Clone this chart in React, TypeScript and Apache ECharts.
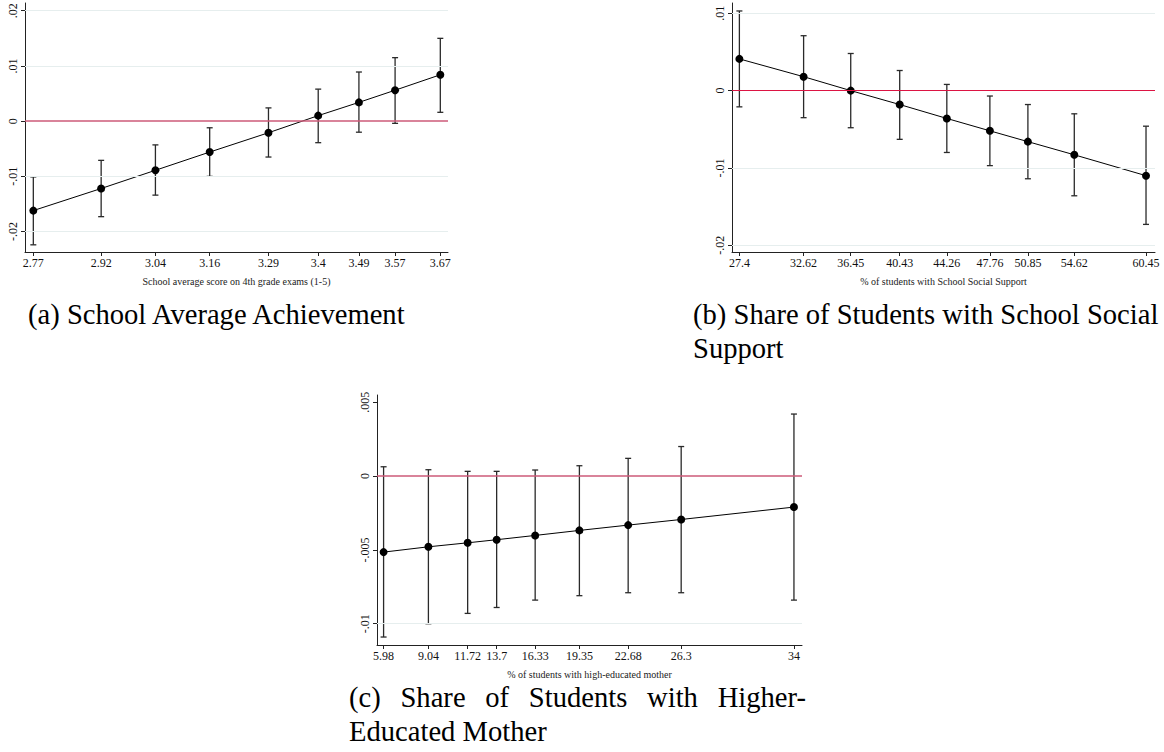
import React, { useEffect, useRef } from "react";
import * as echarts from "echarts";

// ---------- data ----------
const A_X = [2.77, 2.92, 3.04, 3.16, 3.29, 3.4, 3.49, 3.57, 3.67];
const A_EST = [-0.0162, -0.0122, -0.0089, -0.0056, -0.0021, 0.001, 0.0034, 0.0056, 0.0084];
const A_LO = [-0.0224, -0.0173, -0.0134, -0.01, -0.0065, -0.0039, -0.002, -0.0004, 0.0016];
const A_HI = [-0.0101, -0.0071, -0.0043, -0.0012, 0.0024, 0.0058, 0.0089, 0.0115, 0.015];
const A_YTICKS = [-0.02, -0.01, 0, 0.01, 0.02];
const A_YLABELS = ["-.02", "-.01", "0", ".01", ".02"];
const A_XLABELS = ["2.77", "2.92", "3.04", "3.16", "3.29", "3.4", "3.49", "3.57", "3.67"];

const B_X = [27.4, 32.62, 36.45, 40.43, 44.26, 47.76, 50.85, 54.62, 60.45];
const B_EST = [0.0041, 0.0018, 0.0, -0.0018, -0.0036, -0.0052, -0.0066, -0.0083, -0.011];
const B_LO = [-0.0021, -0.0035, -0.0048, -0.0063, -0.008, -0.0097, -0.0114, -0.0136, -0.0173];
const B_HI = [0.0103, 0.0071, 0.0048, 0.0026, 0.0008, -0.0007, -0.0018, -0.003, -0.0046];
const B_YTICKS = [-0.02, -0.01, 0, 0.01];
const B_YLABELS = ["-.02", "-.01", "0", ".01"];
const B_XLABELS = ["27.4", "32.62", "36.45", "40.43", "44.26", "47.76", "50.85", "54.62", "60.45"];

const C_X = [5.98, 9.04, 11.72, 13.7, 16.33, 19.35, 22.68, 26.3, 34];
const C_EST = [-0.00515, -0.00479, -0.00452, -0.00431, -0.00402, -0.00368, -0.00332, -0.00294, -0.0021];
const C_LO = [-0.0109, -0.01, -0.0093, -0.0089, -0.0084, -0.0081, -0.0079, -0.0079, -0.0084];
const C_HI = [0.00063, 0.00043, 0.00032, 0.00032, 0.00041, 0.0007, 0.0012, 0.002, 0.0042];
const C_YTICKS = [-0.01, -0.005, 0, 0.005];
const C_YLABELS = ["-.01", "-.005", "0", ".005"];
const C_XLABELS = ["5.98", "9.04", "11.72", "13.7", "16.33", "19.35", "22.68", "26.3", "34"];

const X_TITLES = [
  "School average score on 4th grade exams (1-5)",
  "% of students with School Social Support",
  "% of students with high-educated mother",
];
const CAPTION_A = "(a) School Average Achievement";
const CAPTION_B = ["(b) Share of Students with School Social", "Support"];
const CAPTION_C = ["(c) Share of Students with Higher-", "Educated Mother"];

// ---------- styling ----------
const SERIF = "'Liberation Serif', 'Times New Roman', serif";
const GRID_COLOR = "#e6eeee";

function measure(text: string, size: number) {
  const c = document.createElement("canvas").getContext("2d");
  if (!c) return text.length * size * 0.45;
  c.font = `${size}px ${SERIF}`;
  return c.measureText(text).width;
}

function justifiedLine(text: string, left: number, right: number, y: number, size: number) {
  const words = text.split(" ");
  const widths = words.map((w) => measure(w, size));
  const total = widths.reduce((a, b) => a + b, 0);
  const gap = (right - left - total) / (words.length - 1);
  let x = left;
  return words.map((w, i) => {
    const el = {
      type: "text",
      left: x,
      top: y,
      style: { text: w, fontSize: size, fontFamily: SERIF, fill: "#000" },
    };
    x += widths[i] + gap;
    return el;
  });
}

export default function App() {
  const ref = useRef<HTMLDivElement>(null);
  useEffect(() => {
    if (!ref.current) return;
    const chart = echarts.init(ref.current, undefined, { renderer: "svg" });

    const panels = [
      { xs: A_X, est: A_EST, lo: A_LO, hi: A_HI, yt: A_YTICKS, yl: A_YLABELS, xl: A_XLABELS,
        grid: { left: 25, right: 716, top: 3, bottom: 500 }, xmin: 2.7516, xmax: 3.687, ymin: -0.0237, ymax: 0.0214,
        zero: "#cc5a78", zeroW: 1.6 },
      { xs: B_X, est: B_EST, lo: B_LO, hi: B_HI, yt: B_YTICKS, yl: B_YLABELS, xl: B_XLABELS,
        grid: { left: 732, right: 9, top: 3, bottom: 500 }, xmin: 26.8, xmax: 61.18, ymin: -0.02087, ymax: 0.01133,
        zero: "#dc1443", zeroW: 1.2 },
      { xs: C_X, est: C_EST, lo: C_LO, hi: C_HI, yt: C_YTICKS, yl: C_YLABELS, xl: C_XLABELS,
        grid: { left: 377, right: 362, top: 395, bottom: 107 }, xmin: 5.53, xmax: 34.55, ymin: -0.01144, ymax: 0.00549,
        zero: "#cc5a78", zeroW: 1.6 },
    ];

    const grid: any[] = [];
    const xAxis: any[] = [];
    const yAxis: any[] = [];
    const series: any[] = [];

    panels.forEach((p, i) => {
      grid.push({ ...p.grid, containLabel: false });
      xAxis.push({
        type: "value",
        gridIndex: i,
        min: p.xmin,
        max: p.xmax,
        name: X_TITLES[i],
        nameLocation: "middle",
        nameGap: 24,
        nameTextStyle: { fontSize: 10, fontFamily: SERIF, color: "#222" },
        axisLine: { show: true, onZero: false, lineStyle: { color: "#222", width: 1 } },
        axisTick: { show: true, length: 4, customValues: p.xs, lineStyle: { color: "#222" } },
        axisLabel: {
          show: true,
          customValues: p.xs,
          margin: 5,
          fontSize: 12,
          fontFamily: SERIF,
          color: "#111",
          formatter: (v: number) => {
            const k = p.xs.findIndex((x) => Math.abs(x - v) < 1e-9);
            return k >= 0 ? p.xl[k] : "";
          },
        },
        splitLine: { show: false },
      });
      yAxis.push({
        type: "value",
        gridIndex: i,
        min: p.ymin,
        max: p.ymax,
        axisLine: { show: true, onZero: false, lineStyle: { color: "#222", width: 1 } },
        axisTick: { show: true, length: 4, customValues: p.yt, lineStyle: { color: "#222" } },
        axisLabel: {
          show: true,
          customValues: p.yt,
          rotate: 90,
          margin: 6,
          fontSize: 12,
          fontFamily: SERIF,
          color: "#111",
          formatter: (v: number) => {
            const k = p.yt.findIndex((y) => Math.abs(y - v) < 1e-9);
            return k >= 0 ? p.yl[k] : "";
          },
        },
        splitLine: { show: false },
      });

      // gridlines + zero reference line
      series.push({
        type: "line",
        xAxisIndex: i,
        yAxisIndex: i,
        data: [],
        silent: true,
        z: 1,
        markLine: {
          silent: true,
          symbol: "none",
          label: { show: false },
          animation: false,
          data: [
            ...p.yt.filter((v) => v !== 0).map((v) => ({ yAxis: v, lineStyle: { color: GRID_COLOR, width: 1, type: "solid" } })),
            { yAxis: 0, lineStyle: { color: p.zero, width: p.zeroW, type: "solid" } },
          ],
        },
      });

      // error bars
      series.push({
        type: "custom",
        xAxisIndex: i,
        yAxisIndex: i,
        z: 3,
        silent: true,
        data: p.xs.map((x, k) => [x, p.lo[k], p.hi[k]]),
        renderItem: (params: any, api: any) => {
          const x = api.value(0);
          const lo = api.coord([x, api.value(1)]);
          const hi = api.coord([x, api.value(2)]);
          const w = 3;
          const style = { stroke: "#2a2a2a", lineWidth: 1.3 };
          return {
            type: "group",
            children: [
              { type: "line", shape: { x1: lo[0], y1: lo[1], x2: hi[0], y2: hi[1] }, style },
              { type: "line", shape: { x1: lo[0] - w, y1: lo[1], x2: lo[0] + w, y2: lo[1] }, style },
              { type: "line", shape: { x1: hi[0] - w, y1: hi[1], x2: hi[0] + w, y2: hi[1] }, style },
            ],
          };
        },
      });

      // point estimates
      series.push({
        type: "line",
        xAxisIndex: i,
        yAxisIndex: i,
        z: 4,
        silent: true,
        data: p.xs.map((x, k) => [x, p.est[k]]),
        symbol: "circle",
        symbolSize: 8,
        showSymbol: true,
        lineStyle: { color: "#000", width: 1 },
        itemStyle: { color: "#000" },
      });
    });

    const CAP = 28.6;
    const graphic: any[] = [
      { type: "text", left: 28, top: 300, style: { text: CAPTION_A, fontSize: CAP, fontFamily: SERIF, fill: "#000" } },
      { type: "text", left: 693, top: 300, style: { text: CAPTION_B[0], fontSize: CAP, fontFamily: SERIF, fill: "#000" } },
      { type: "text", left: 693, top: 334, style: { text: CAPTION_B[1], fontSize: CAP, fontFamily: SERIF, fill: "#000" } },
      ...justifiedLine(CAPTION_C[0], 349, 806, 683, CAP),
      { type: "text", left: 349, top: 717, style: { text: CAPTION_C[1], fontSize: CAP, fontFamily: SERIF, fill: "#000" } },
    ];

    chart.setOption({
      animation: false,
      backgroundColor: "#fff",
      grid,
      xAxis,
      yAxis,
      series,
      graphic,
    });
    return () => chart.dispose();
  }, []);

  return (
    <div
      ref={ref}
      style={{ position: "fixed", left: 0, top: 0, width: 1164, height: 752, background: "#fff" }}
    />
  );
}
